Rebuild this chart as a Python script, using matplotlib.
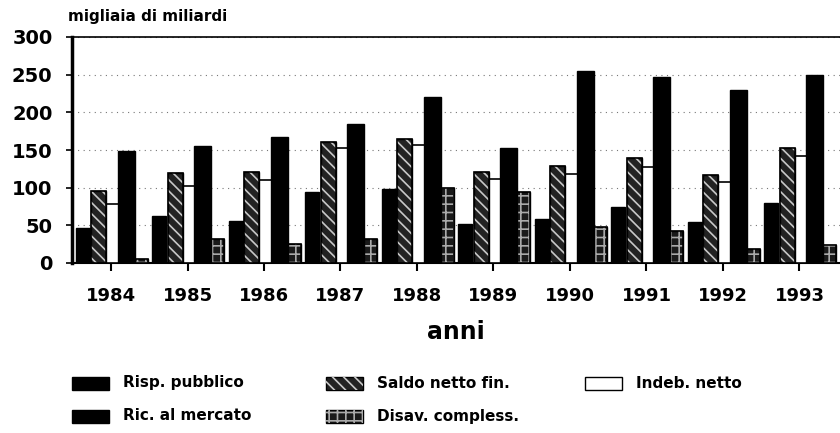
import numpy as np
import matplotlib
matplotlib.use('Agg')
import matplotlib.pyplot as plt
from matplotlib.patches import Rectangle

years = ['1984', '1985', '1986', '1987', '1988', '1989', '1990', '1991', '1992', '1993']

risp_pubblico   = [47, 63, 56, 94, 98, 52, 59, 74, 55, 79]
saldo_netto_fin = [95, 120, 121, 161, 164, 121, 129, 139, 117, 153]
indeb_netto     = [78, 102, 110, 152, 156, 111, 118, 128, 107, 142]
ric_mercato     = [149, 155, 167, 184, 221, 153, 255, 247, 229, 249]
disav_compless  = [5, 32, 25, 32, 100, 94, 48, 42, 18, 24]

labels = ['Risp. pubblico', 'Saldo netto fin.', 'Indeb. netto',
          'Ric. al mercato', 'Disav. compless.']

plt.rcParams['font.family'] = ['DejaVu Sans']
plt.rcParams['hatch.linewidth'] = 1.2

fig = plt.figure(figsize=(8.4, 4.33), dpi=100)
ax = fig.add_axes([72/840, 1 - 263/433, 1 - 72/840, (263 - 37)/433])

x = np.arange(len(years))


def hatched_bar(xpos, vals, width, face, hatch, hcolor, zorder):
    ax.bar(xpos, vals, width, color=face, edgecolor='black', linewidth=1, zorder=zorder)
    ax.bar(xpos, vals, width, color='none', edgecolor=hcolor, hatch=hatch,
           linewidth=0, zorder=zorder + 0.1)
    ax.bar(xpos, vals, width, color='none', edgecolor='black', linewidth=1.2,
           zorder=zorder + 0.2)


ax.bar(x - 0.37, risp_pubblico, 0.18, color='black', edgecolor='black', zorder=3)
hatched_bar(x - 0.16, saldo_netto_fin, 0.2, '#222222', '\\\\\\', '#c8c8c8', 4)
ax.bar(x + 0.02, indeb_netto, 0.17, color='white', edgecolor='black', linewidth=1.2, zorder=3.5)
ax.bar(x + 0.2, ric_mercato, 0.22, color='black', edgecolor='black', zorder=5)
hatched_bar(x + 0.39, disav_compless, 0.18, '#1a1a1a', '++', '#aaaaaa', 4)

ax.set_xlim(-0.51, 9.53)
ax.set_ylim(0, 300)
ax.set_yticks(range(0, 301, 50))
ax.set_xticks(x)
ax.set_xticklabels(years, fontsize=13, fontweight='bold')
ax.tick_params(axis='y', labelsize=14, length=4, width=1.2, pad=10)
for t in ax.get_yticklabels():
    t.set_fontweight('bold')
ax.tick_params(axis='x', length=6, width=1.5, pad=11)

ax.spines['right'].set_visible(False)
ax.spines['left'].set_linewidth(2.5)
ax.spines['bottom'].set_linewidth(1.5)
ax.spines['top'].set_linewidth(1.2)
ax.yaxis.grid(True, linestyle=(0, (1, 4)), color='#777777', linewidth=0.8)
ax.set_axisbelow(True)

ax.set_xlabel('anni', fontsize=17, fontweight='bold', labelpad=11)
fig.text(68/840, 1 - 16/433, 'migliaia di miliardi', fontsize=11, fontweight='bold',
         va='center', ha='left')

# legend drawn by hand
leg_items = [
    (72, 383, 'black', None, None),
    (326, 383, '#222222', '\\\\\\', '#c8c8c8'),
    (585, 383, 'white', None, None),
    (72, 416, 'black', None, None),
    (326, 416, '#1a1a1a', '++', '#aaaaaa'),
]
for (px, py, face, hatch, hcolor), lab in zip(leg_items, labels):
    fx, fy = px/840, 1 - (py + 7)/433
    w, h = 37/840, 13/433
    fig.patches.append(Rectangle((fx, fy), w, h, transform=fig.transFigure,
                                 facecolor=face, edgecolor='black', linewidth=1))
    if hatch:
        fig.patches.append(Rectangle((fx, fy), w, h, transform=fig.transFigure,
                                     facecolor='none', edgecolor=hcolor, hatch=hatch,
                                     linewidth=0))
    fig.text((px + 51)/840, 1 - py/433, lab, fontsize=11, fontweight='bold',
             va='center', ha='left')

fig.savefig('out.png', dpi=100)
